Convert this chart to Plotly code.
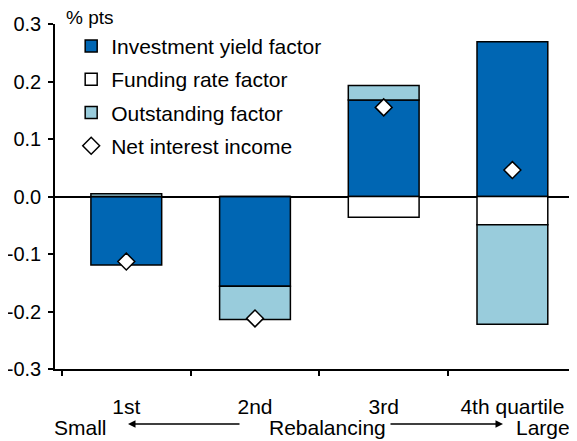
"""Net interest income decomposition by rebalancing quartile."""

import plotly.graph_objects as go

# data
quartiles = ["1st", "2nd", "3rd", "4th quartile"]
investment_yield = [-0.119, -0.156, 0.168, 0.269]
funding_rate = [0.0, 0.0, -0.036, -0.049]
outstanding = [0.005, -0.058, 0.025, -0.173]
net_interest = [-0.113, -0.212, 0.155, 0.046]

y_ticks = [-0.3, -0.2, -0.1, 0.0, 0.1, 0.2, 0.3]
y_ticklabels = ["-0.3", "-0.2", "-0.1", "0.0", "0.1", "0.2", "0.3"]

FONT = "Liberation Sans, Arial, sans-serif"
BLUE = "#0066b3"
LIGHT_BLUE = "#99ccdc"

# the page body adds an 8px margin, so the figure is drawn 8px smaller
PAGE_OFFSET = 8

bar_line = dict(color="black", width=1.5)

fig = go.Figure()
fig.add_trace(go.Bar(
    x=quartiles, y=investment_yield, name="Investment yield factor",
    marker=dict(color=BLUE, line=bar_line), width=0.55, legendgroup="a",
))
fig.add_trace(go.Bar(
    x=quartiles, y=funding_rate, name="Funding rate factor",
    marker=dict(color="white", line=bar_line), width=0.55, legendgroup="b",
))
fig.add_trace(go.Bar(
    x=quartiles, y=outstanding, name="Outstanding factor",
    marker=dict(color=LIGHT_BLUE, line=bar_line), width=0.55, legendgroup="c",
))
fig.add_trace(go.Scatter(
    x=quartiles, y=net_interest, name="Net interest income", mode="markers",
    marker=dict(symbol="diamond", size=13, color="white",
                line=dict(color="black", width=1.5)),
    legendgroup="d",
))


def px_to_paper(px):
    return (px - 55) / 522


def py_to_paper(py):
    return (369 - py) / 345


annotations = [
    dict(text="% pts", x=px_to_paper(64), y=py_to_paper(17), xanchor="left",
         font=dict(size=19)),
    dict(text="Small", x=px_to_paper(80), y=py_to_paper(427)),
    dict(text="Rebalancing", x=px_to_paper(327), y=py_to_paper(427)),
    dict(text="Large", x=px_to_paper(543), y=py_to_paper(427)),
]
for a in annotations:
    a.setdefault("xanchor", "center")
    a.setdefault("font", dict(size=21))
    a.update(xref="paper", yref="paper", showarrow=False, yanchor="middle")

# arrows either side of "Rebalancing"
for head, tail in [(128, 241), (503, 389)]:
    annotations.append(dict(
        x=px_to_paper(head), y=py_to_paper(424), xref="paper", yref="paper",
        ax=tail - head, ay=0, text="", showarrow=True,
        arrowhead=2, arrowsize=1, arrowwidth=1.5, arrowcolor="black",
    ))

fig.update_layout(
    width=577 - PAGE_OFFSET,
    height=441 - PAGE_OFFSET,
    margin=dict(l=55 - PAGE_OFFSET, r=0, t=24 - PAGE_OFFSET, b=72),
    barmode="relative",
    plot_bgcolor="white",
    paper_bgcolor="white",
    font=dict(family=FONT, size=21, color="black"),
    showlegend=True,
    legend=dict(
        x=0.031, y=0.995, xanchor="left", yanchor="top",
        traceorder="grouped", tracegroupgap=3,
        bgcolor="rgba(0,0,0,0)", font=dict(size=21),
    ),
    xaxis=dict(
        type="category", range=[-0.554, 3.502],
        showgrid=False, zeroline=False,
        showline=True, linecolor="black", linewidth=1.5,
        tickson="boundaries", ticks="outside", ticklen=5, tickwidth=1.5,
        tickcolor="black", ticklabelstandoff=18,
    ),
    yaxis=dict(
        range=[-0.3, 0.3], showgrid=False,
        zeroline=True, zerolinecolor="black", zerolinewidth=1.5,
        showline=True, linecolor="black", linewidth=1.5,
        tickmode="array", tickvals=y_ticks, ticktext=y_ticklabels,
        ticks="outside", ticklen=5, tickwidth=1.5, tickcolor="black",
        tickfont=dict(size=20), ticklabelstandoff=3,
    ),
    annotations=annotations,
)

fig.write_html("out.html")
